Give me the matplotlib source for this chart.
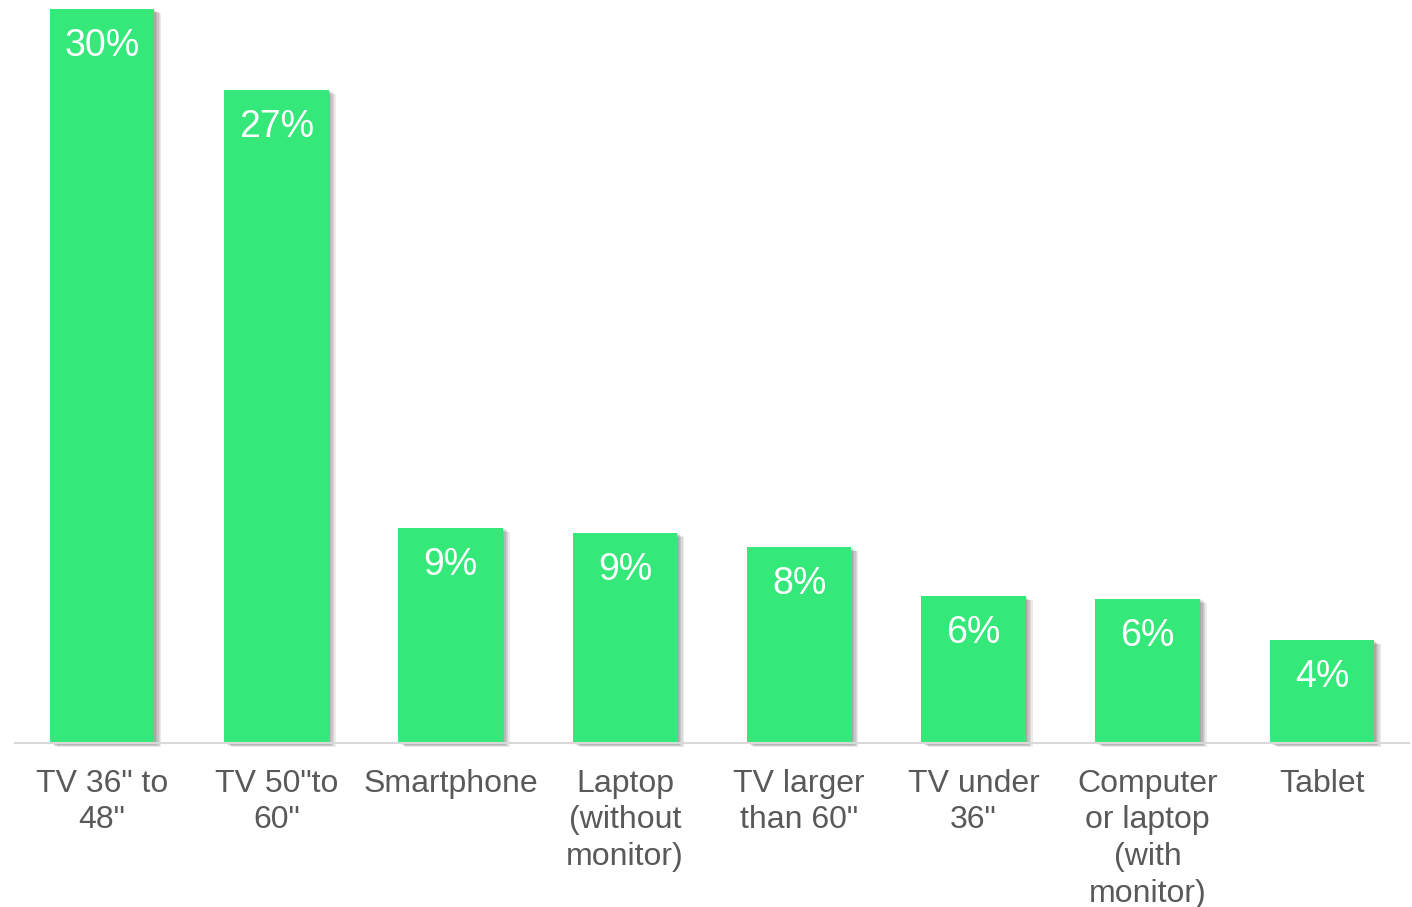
import matplotlib
matplotlib.use("Agg")
from matplotlib import pyplot as plt
from matplotlib import patheffects as pe
import numpy as np

devices = ['TV 36" to\n48"', 'TV 50"to\n60"', 'Smartphone', 'Laptop\n(without\nmonitor)',
           'TV larger\nthan 60"', 'TV under\n36"', 'Computer\nor laptop\n(with\nmonitor)', 'Tablet']
share = [30.0, 26.7, 8.8, 8.6, 8.0, 6.0, 5.9, 4.2]

bar_color = '#35E87A'
text_gray = '#595959'

plt.rcParams['font.family'] = ['Liberation Sans', 'DejaVu Sans']

fig = plt.figure(figsize=(14.12, 9.07), dpi=100)
ax = fig.add_axes([15 / 1412, 164 / 907, 1394 / 1412, 734 / 907])

x = np.arange(len(devices))

# soft drop shadow built from a few stacked offsets
shadow = [pe.SimplePatchShadow(offset=(d, -d * 0.6), shadow_rgbFace='black', alpha=0.08)
          for d in (1, 2, 3, 4, 5)] + [pe.Normal()]

bars = ax.bar(x, share, width=0.6, color=bar_color, zorder=2, clip_on=False)
for b in bars:
    b.set_path_effects(shadow)

for xi, v in zip(x, share):
    ax.annotate(f"{v:.0f}%", (xi, v), xytext=(0, -34), textcoords='offset points',
                ha='center', va='baseline', color='white', fontsize=27, zorder=3)

ax.set_xlim(-0.5, len(devices) - 0.5)
ax.set_ylim(0, 30)
ax.set_xticks(x)
ax.set_xticklabels(devices, fontsize=23, color=text_gray, linespacing=1.29)
ax.tick_params(axis='x', length=0, pad=18.5)
ax.set_yticks([])
for side in ('top', 'right', 'left'):
    ax.spines[side].set_visible(False)
ax.spines['bottom'].set_color('#d9d9d9')
ax.spines['bottom'].set_linewidth(1.5)
ax.spines['bottom'].set_zorder(3)

fig.savefig('out.png', dpi=100, facecolor='white')
